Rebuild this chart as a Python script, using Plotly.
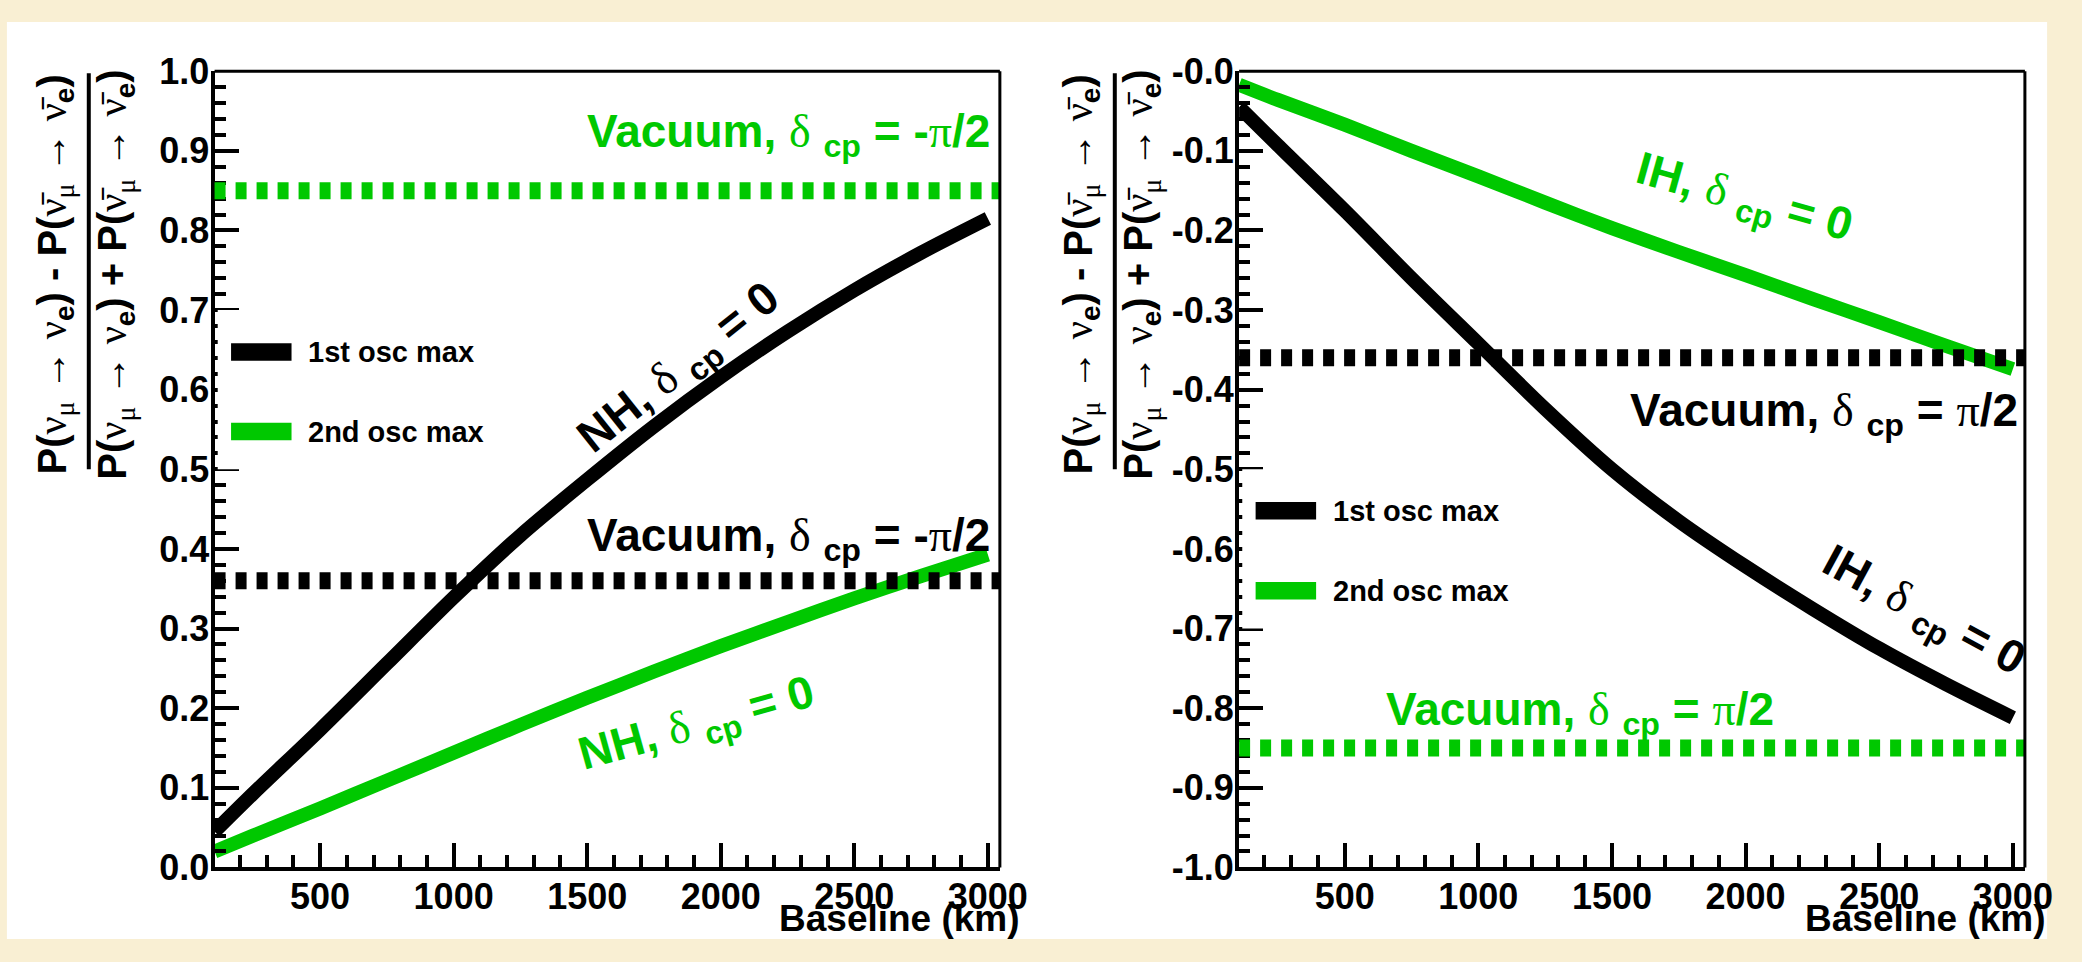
import math
import plotly.graph_objects as go

W, H = 2082, 962

# ---------------- data ----------------
baseline_km = [105, 250, 500, 750, 1000, 1250, 1500, 1750, 2000, 2250, 2500, 2750, 3000]
nh_1st_max = [0.045, 0.093, 0.173, 0.256, 0.339, 0.417, 0.487, 0.554, 0.616, 0.673, 0.725, 0.772, 0.815]
nh_2nd_max = [0.020, 0.040, 0.074, 0.109, 0.144, 0.179, 0.213, 0.246, 0.278, 0.308, 0.338, 0.366, 0.393]
ih_1st_max = [-0.045, -0.093, -0.175, -0.260, -0.342, -0.424, -0.500, -0.565, -0.622, -0.675, -0.725, -0.770, -0.812]
ih_2nd_max = [-0.017, -0.036, -0.067, -0.100, -0.132, -0.165, -0.197, -0.227, -0.256, -0.286, -0.315, -0.345, -0.374]
vac_left = {"1st": 0.36, "2nd": 0.85}      # Vacuum, delta_cp = -pi/2
vac_right = {"1st": -0.36, "2nd": -0.85}   # Vacuum, delta_cp = +pi/2
x_range = [105, 3045]
x_ticks = [500, 1000, 1500, 2000, 2500, 3000]
y_ticks_left = [0.0, 0.1, 0.2, 0.3, 0.4, 0.5, 0.6, 0.7, 0.8, 0.9, 1.0]
y_ticks_right = [0.0, -0.1, -0.2, -0.3, -0.4, -0.5, -0.6, -0.7, -0.8, -0.9, -1.0]
y_ticktext_right = ["-0.0", "-0.1", "-0.2", "-0.3", "-0.4", "-0.5", "-0.6", "-0.7", "-0.8", "-0.9", "-1.0"]
legend_labels = ["1st osc max", "2nd osc max"]

BLACK = "#000000"
GREEN = "#00C800"
CREAM = "#F9EFD3"
SANS = "Liberation Sans"
SERIF = "Liberation Serif"

# the photographed page comes out slightly squeezed vertically; positions below are
# given in the target picture's pixels and converted to figure pixels
V_OFF, V_SC = 18.5, 0.962


def px(xp):
    return xp / W


def py(yt):
    return 1 - ((yt - V_OFF) / V_SC) / H


def ang(a):
    return math.degrees(math.atan(math.tan(math.radians(a)) / V_SC))


def S(s):
    return f"<span style='font-family:{SERIF};font-weight:normal'>{s}</span>"


delta = S("δ")
pi = S("π")
lab_vac_m = f"Vacuum, {delta} <sub>cp</sub> = -{pi}/2"
lab_vac_p = f"Vacuum, {delta} <sub>cp</sub> = {pi}/2"
lab_nh = f"NH, {delta} <sub>cp</sub> = 0"
lab_ih = f"IH, {delta} <sub>cp</sub> = 0"

fig = go.Figure()

LW = 14
for xs, ys, col, xa, ya in ((baseline_km, nh_1st_max, BLACK, "x", "y"),
                            (baseline_km, nh_2nd_max, GREEN, "x", "y"),
                            (baseline_km, ih_1st_max, BLACK, "x2", "y2"),
                            (baseline_km, ih_2nd_max, GREEN, "x2", "y2")):
    fig.add_trace(go.Scatter(x=xs, y=ys, mode="lines",
                             line=dict(color=col, width=LW, shape="spline", smoothing=0.8),
                             xaxis=xa, yaxis=ya, showlegend=False, hoverinfo="skip"))

shapes = []
# white panel over cream background
shapes.append(dict(type="rect", xref="paper", yref="paper", x0=px(7), x1=px(2075), y0=2 / H, y1=1 - 2 / H,
                   fillcolor="white", line=dict(width=0), layer="below"))

# vacuum dashed lines
DASH = "11px,10px"
for xr, yr, vals in (("x domain", "y", vac_left), ("x2 domain", "y2", vac_right)):
    shapes.append(dict(type="line", xref=xr, yref=yr, x0=0, x1=1, y0=vals["1st"], y1=vals["1st"],
                       line=dict(color=BLACK, width=17, dash=DASH), layer="above"))
    shapes.append(dict(type="line", xref=xr, yref=yr, x0=0, x1=1, y0=vals["2nd"], y1=vals["2nd"],
                       line=dict(color=GREEN, width=17, dash=DASH), layer="above"))

# legend boxes (white, cover ticks) + samples
leg_specs = [("x domain", "y", 0.5, 0.7, [0.6475, 0.5475]),
             ("x2 domain", "y2", -0.7, -0.5, [-0.552, -0.6525])]
for xr, yr, yb0, yb1, ys in leg_specs:
    shapes.append(dict(type="rect", xref=xr, yref=yr, x0=0.004, x1=0.36, y0=yb0, y1=yb1,
                       fillcolor="white", line=dict(width=0), layer="above"))
    for yc, col in zip(ys, [BLACK, GREEN]):
        shapes.append(dict(type="rect", xref=xr, yref=yr, x0=0.021, x1=0.098, y0=yc - 0.011, y1=yc + 0.011,
                           fillcolor=col, line=dict(width=0), layer="above"))

# top/right frame lines (thinner)
for xr, yr in (("x domain", "y domain"), ("x2 domain", "y2 domain")):
    shapes.append(dict(type="line", xref=xr, yref=yr, x0=0, x1=1, y0=1, y1=1,
                       line=dict(color=BLACK, width=3), layer="above"))
    shapes.append(dict(type="line", xref=xr, yref=yr, x0=1, x1=1, y0=0, y1=1,
                       line=dict(color=BLACK, width=3), layer="above"))

# y-title fraction bars
for off in (0, 1040):
    shapes.append(dict(type="line", xref="paper", yref="paper", x0=px(90 + off), x1=px(90 + off),
                       y0=py(72), y1=py(470), line=dict(color=BLACK, width=4)))

ann = []
F_LAB = 46


def lab(text, x, y, xref, yref, color, angle=0, xanchor="left"):
    ann.append(dict(text=text, x=x, y=y, xref=xref, yref=yref, showarrow=False, textangle=angle,
                    xanchor=xanchor, yanchor="middle",
                    font=dict(family=SANS, size=F_LAB, color=color, weight="bold")))


# left panel labels
lab(lab_vac_m, 1493, 0.920, "x", "y", GREEN)
lab(lab_vac_m, 1493, 0.413, "x", "y", BLACK)
lab(lab_nh, 1846, 0.625, "x", "y", BLACK, angle=-ang(37.5), xanchor="center")
lab(lab_nh, 1912, 0.178, "x", "y", GREEN, angle=-ang(15), xanchor="center")
# right panel labels
lab(lab_vac_p, 1560, -0.430, "x2", "y2", BLACK)
lab(lab_vac_p, 646, -0.806, "x2", "y2", GREEN)
lab(lab_ih, 1994, -0.1615, "x2", "y2", GREEN, angle=ang(15), xanchor="center")
lab(lab_ih, 2665, -0.680, "x2", "y2", BLACK, angle=ang(27.5), xanchor="center")

# legend texts
for xr, yr, _, _, ys in leg_specs:
    for yc, t in zip(ys, legend_labels):
        ann.append(dict(text=t, x=0.117, y=yc, xref=xr, yref=yr, showarrow=False, xanchor="left",
                        yanchor="middle", font=dict(family=SANS, size=29, color=BLACK, weight="bold")))

# x-axis titles
for xr_px in (1036, 2076):
    ann.append(dict(text="Baseline (km)", x=px(xr_px), y=0, xref="paper", yref="paper",
                    showarrow=False, xanchor="right", yanchor="bottom",
                    font=dict(family=SANS, size=37, color=BLACK, weight="bold")))

# y-axis titles (fraction)
nu = S("ν")
nubar = S("ν̄")
mu = S("μ")
arr = S("→")
num = f"P({nu}<sub>{mu}</sub> {arr} {nu}<sub>e</sub>) - P({nubar}<sub>{mu}</sub> {arr} {nubar}<sub>e</sub>)"
den = f"P({nu}<sub>{mu}</sub> {arr} {nu}<sub>e</sub>) + P({nubar}<sub>{mu}</sub> {arr} {nubar}<sub>e</sub>)"
for off in (0, 1040):
    ann.append(dict(text=num, x=px(56 + off), y=py(274), xref="paper", yref="paper", showarrow=False,
                    textangle=-90, xanchor="center", yanchor="middle",
                    font=dict(family=SANS, size=40, color=BLACK, weight="bold")))
    ann.append(dict(text=den, x=px(117 + off), y=py(274), xref="paper", yref="paper", showarrow=False,
                    textangle=-90, xanchor="center", yanchor="middle",
                    font=dict(family=SANS, size=40, color=BLACK, weight="bold")))
fig.update_layout(shapes=shapes, annotations=ann)

tickfont = dict(family=SANS, size=36, color=BLACK, weight="bold")
common_x = dict(range=x_range, showline=True, linewidth=4, linecolor=BLACK, ticks="inside", ticklen=24,
                tickwidth=4, tickcolor=BLACK, tickmode="array", tickvals=x_ticks, ticklabelstandoff=-6,
                ticktext=[str(v) for v in x_ticks], tickfont=tickfont, showgrid=False, zeroline=False,
                minor=dict(ticks="inside", ticklen=12, tickwidth=4, tickcolor=BLACK, dtick=100, tick0=0,
                           showgrid=False))
common_y = dict(showline=True, linewidth=4, linecolor=BLACK, ticks="inside", ticklen=24, tickwidth=4,
                tickcolor=BLACK, tickfont=tickfont, showgrid=False, zeroline=False, ticklabelstandoff=-6,
                minor=dict(ticks="inside", ticklen=11, tickwidth=4, tickcolor=BLACK, dtick=0.02, tick0=0,
                           showgrid=False))
ydom = [py(870), py(70)]
fig.update_layout(
    width=W, height=H, margin=dict(l=0, r=0, t=0, b=0),
    paper_bgcolor=CREAM, plot_bgcolor="white", showlegend=False,
    xaxis=dict(domain=[px(217.5), px(1013.5)], anchor="y", **common_x),
    yaxis=dict(domain=ydom, anchor="x", range=[0, 1], tickmode="array", tickvals=y_ticks_left,
               ticktext=[f"{v:.1f}" for v in y_ticks_left], **common_y),
    xaxis2=dict(domain=[px(1256), px(2052.5)], anchor="y2", **common_x),
    yaxis2=dict(domain=ydom, anchor="x2", range=[-1, 0], tickmode="array", tickvals=y_ticks_right,
                ticktext=y_ticktext_right, **common_y),
)

fig.write_html("out.html")
